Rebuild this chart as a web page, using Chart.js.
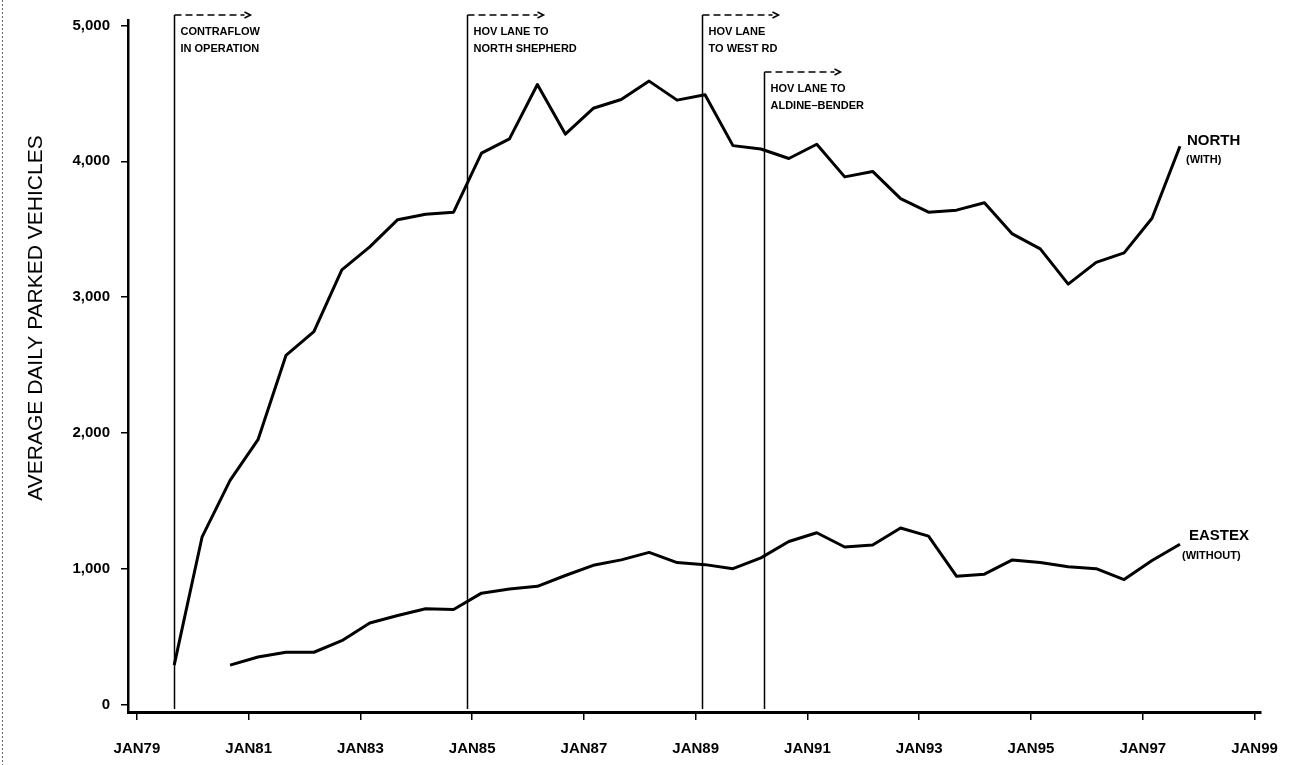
<!DOCTYPE html>
<html>
<head>
<meta charset="utf-8">
<script src="https://cdn.jsdelivr.net/npm/chart.js@4.4.1/dist/chart.umd.min.js"></script>
<style>
  html, body { margin: 0; padding: 0; background: #fff; }
  #wrap { width: 1298px; height: 765px; }
</style>
</head>
<body>
<div id="wrap"><canvas id="parkChart" width="1298" height="765"></canvas></div>
<script>
// semi-annual counts (March / September)
const periods = ['SEP79',
  'MAR80','SEP80','MAR81','SEP81','MAR82','SEP82','MAR83','SEP83','MAR84','SEP84',
  'MAR85','SEP85','MAR86','SEP86','MAR87','SEP87','MAR88','SEP88','MAR89','SEP89',
  'MAR90','SEP90','MAR91','SEP91','MAR92','SEP92','MAR93','SEP93','MAR94','SEP94',
  'MAR95','SEP95','MAR96','SEP96','MAR97','SEP97'];

const northWith = [290, 1235, 1650, 1950, 2570, 2745, 3200, 3370, 3570, 3610, 3625,
  4060, 4165, 4565, 4200, 4390, 4455, 4590, 4450, 4490, 4115,
  4090, 4020, 4125, 3885, 3925, 3725, 3625, 3640, 3695, 3465,
  3355, 3095, 3255, 3325, 3580, 4110];

const eastexWithout = [null, null, 290, 350, 385, 385, 470, 600, 655, 705, 700,
  820, 850, 870, 950, 1025, 1065, 1120, 1045, 1030, 1000,
  1080, 1200, 1265, 1160, 1175, 1300, 1240, 945, 960, 1065,
  1045, 1015, 1000, 920, 1060, 1180];

const seriesNames = [['NORTH', '(WITH)'], ['EASTEX', '(WITHOUT)']];

const xTickYears = [1979, 1981, 1983, 1985, 1987, 1989, 1991, 1993, 1995, 1997, 1999];
const yTickValues = [0, 1000, 2000, 3000, 4000, 5000];

// events: decimal year of opening
const eventDates = [1979.66, 1984.9, 1989.12, 1990.22];
const eventLabels = [
  ['CONTRAFLOW', 'IN OPERATION'],
  ['HOV LANE TO', 'NORTH SHEPHERD'],
  ['HOV LANE', 'TO WEST RD'],
  ['HOV LANE TO', 'ALDINE\u2013BENDER']
];

const yTitle = 'AVERAGE DAILY PARKED VEHICLES';

const MONTHS = {JAN:0, FEB:1, MAR:2, APR:3, MAY:4, JUN:5, JUL:6, AUG:7, SEP:8, OCT:9, NOV:10, DEC:11};
function toYear(p) {
  return 1900 + parseInt(p.slice(3), 10) + MONTHS[p.slice(0, 3)] / 12;
}

const FONT = '"Liberation Sans", Arial, Helvetica, sans-serif';

function pairUp(values) {
  return periods.map((p, i) => ({x: toYear(p), y: values[i]}));
}

// vertical event lines with dashed arrows, series end labels, y title
const annotatePlugin = {
  id: 'annotate',
  afterDraw(chart) {
    const ctx = chart.ctx;
    const xs = chart.scales.x;
    const area = chart.chartArea;
    const drops = [0, 0, 0, 57];
    ctx.save();

    // scan border at left
    ctx.strokeStyle = '#666';
    ctx.lineWidth = 1;
    ctx.setLineDash([2, 2]);
    ctx.beginPath();
    ctx.moveTo(2.5, 0);
    ctx.lineTo(2.5, 765);
    ctx.stroke();
    ctx.setLineDash([]);

    eventDates.forEach((d, i) => {
      const x = Math.round(xs.getPixelForValue(d)) + 0.5;
      const top = area.top - 5 + drops[i];
      ctx.strokeStyle = '#000';
      ctx.lineWidth = 1.5;
      ctx.beginPath();
      ctx.moveTo(x, top);
      ctx.lineTo(x, area.bottom - 3);
      ctx.stroke();

      ctx.setLineDash([7, 4]);
      ctx.beginPath();
      ctx.moveTo(x, top);
      ctx.lineTo(x + 70, top);
      ctx.stroke();
      ctx.setLineDash([]);
      ctx.beginPath();
      ctx.moveTo(x + 70, top - 3);
      ctx.lineTo(x + 76, top);
      ctx.lineTo(x + 70, top + 3);
      ctx.stroke();

      ctx.fillStyle = '#000';
      ctx.font = 'bold 11px ' + FONT;
      ctx.textBaseline = 'middle';
      ctx.textAlign = 'left';
      eventLabels[i].forEach((t, k) => ctx.fillText(t, x + 6, top + 17 + k * 17));
    });

    // labels at end of each series
    const offs = [[7, -5, 6, 14], [9, -8, 2, 12]];
    chart.data.datasets.forEach((ds, i) => {
      const meta = chart.getDatasetMeta(i);
      const last = meta.data[meta.data.length - 1];
      const o = offs[i];
      ctx.fillStyle = '#000';
      ctx.textAlign = 'left';
      ctx.textBaseline = 'middle';
      ctx.font = 'bold 15px ' + FONT;
      ctx.fillText(seriesNames[i][0], last.x + o[0], last.y + o[1]);
      ctx.font = 'bold 11px ' + FONT;
      ctx.fillText(seriesNames[i][1], last.x + o[2], last.y + o[3]);
    });

    // y axis title
    ctx.translate(36, 318);
    ctx.rotate(-Math.PI / 2);
    ctx.font = '21px ' + FONT;
    ctx.textAlign = 'center';
    ctx.textBaseline = 'middle';
    ctx.fillText(yTitle, 0, 0);
    ctx.restore();
  }
};

const ctx = document.getElementById('parkChart').getContext('2d');
new Chart(ctx, {
  type: 'line',
  data: {
    datasets: [{
      label: 'NORTH (WITH)',
      data: pairUp(northWith),
    }, {
      label: 'EASTEX (WITHOUT)',
      data: pairUp(eastexWithout),
    }],
  },
  options: {
    responsive: false,
    animation: false,
    layout: { padding: { left: 0, right: 33, top: 15, bottom: 0 } },
    plugins: {
      legend: { display: false },
      tooltip: { enabled: false },
    },
    elements: {
      point: { radius: 0 },
      line: { borderWidth: 3, borderColor: '#000', tension: 0, borderJoinStyle: 'round', fill: false },
    },
    scales: {
      x: {
        type: 'linear',
        min: 1978.84,
        max: 1999.11,
        afterBuildTicks: s => { s.ticks = xTickYears.map(v => ({ value: v })); },
        afterFit: s => { s.height = 53; },
        ticks: {
          callback: v => 'JAN' + String(v).slice(2),
          color: '#000',
          font: { family: FONT, size: 15, weight: 'bold' },
          padding: 20,
          maxRotation: 0,
          autoSkip: false,
        },
        grid: { display: true, drawOnChartArea: false, drawTicks: true, tickLength: 8, color: '#000', lineWidth: 1.5 },
        border: { display: true, color: '#000', width: 3 },
      },
      y: {
        min: -55,
        max: 5040,
        afterBuildTicks: s => { s.ticks = yTickValues.map(v => ({ value: v })); },
        afterFit: s => { s.width = 128; },
        ticks: {
          callback: v => v.toLocaleString('en-US'),
          color: '#000',
          font: { family: FONT, size: 15, weight: 'bold' },
          padding: 11,
        },
        grid: { display: true, drawOnChartArea: false, drawTicks: true, tickLength: 7, color: '#000', lineWidth: 1.5 },
        border: { display: true, color: '#000', width: 2.5 },
      },
    },
  },
  plugins: [annotatePlugin],
});
</script>
</body>
</html>
